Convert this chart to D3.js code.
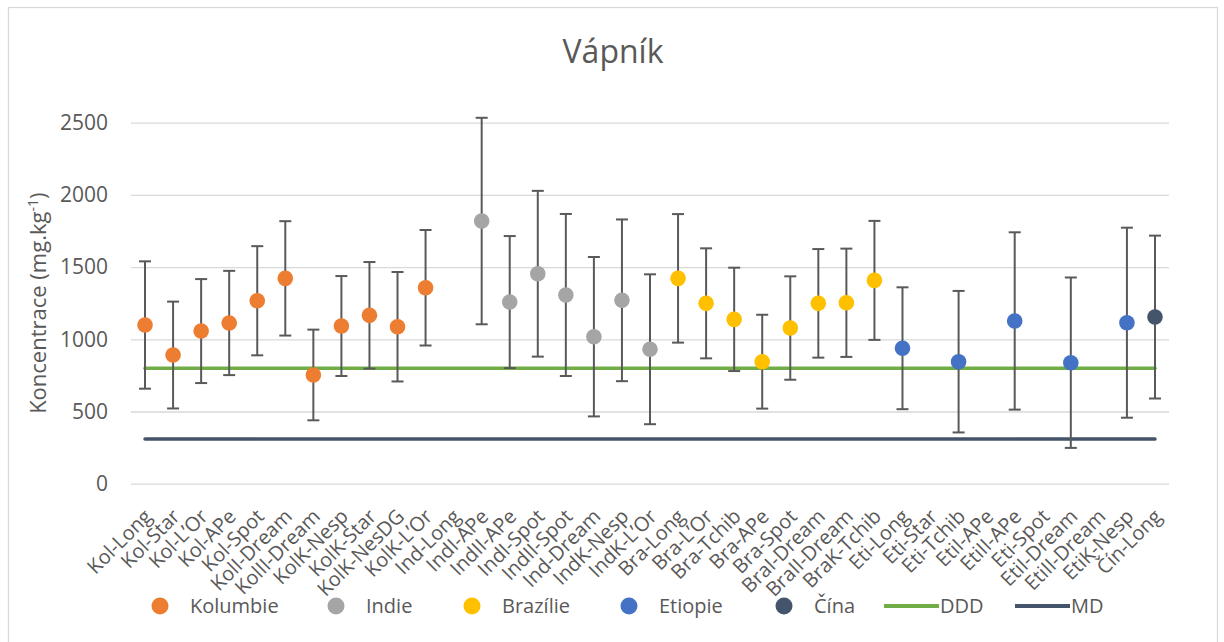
<!DOCTYPE html>
<html>
<head>
<meta charset="utf-8">
<script src="https://cdn.jsdelivr.net/npm/d3@7"></script>
<style>
  html, body { margin: 0; padding: 0; background: #fff; }
  svg { display: block; font-family: "Open Sans", "Noto Sans", sans-serif; }
</style>
</head>
<body>
<div id="chart"></div>
<script>
// Kategorie (vzorky)
const categories = [
  "Kol-Long", "Kol-Star", "Kol-L’Or", "Kol-APe", "Kol-Spot", "KolI-Dream", "KolII-Dream",
  "KolK-Nesp", "KolK-Star", "KolK-NesDG", "KolK-L’Or",
  "Ind-Long", "IndI-APe", "IndII-APe", "IndI-Spot", "IndII-Spot", "Ind-Dream", "IndK-Nesp", "IndK-L’Or",
  "Bra-Long", "Bra-L’Or", "Bra-Tchib", "Bra-APe", "Bra-Spot", "BraI-Dream", "BraII-Dream", "BraK-Tchib",
  "Eti-Long", "Eti-Star", "Eti-Tchib", "EtiI-APe", "EtiII-APe", "Eti-Spot", "EtiI-Dream", "EtiII-Dream", "EtiK-Nesp",
  "Čín-Long"
];

// Země původu pro každou kategorii
const origin = [
  "Kolumbie", "Kolumbie", "Kolumbie", "Kolumbie", "Kolumbie", "Kolumbie", "Kolumbie",
  "Kolumbie", "Kolumbie", "Kolumbie", "Kolumbie",
  "Indie", "Indie", "Indie", "Indie", "Indie", "Indie", "Indie", "Indie",
  "Brazílie", "Brazílie", "Brazílie", "Brazílie", "Brazílie", "Brazílie", "Brazílie", "Brazílie",
  "Etiopie", "Etiopie", "Etiopie", "Etiopie", "Etiopie", "Etiopie", "Etiopie", "Etiopie", "Etiopie",
  "Čína"
];

// Průměrné koncentrace (mg/kg), null = bez hodnoty
const meanValues = [
  1099, 891, 1057, 1113, 1267, 1422, 753, 1092, 1166, 1087, 1357,
  null, 1819, 1258, 1454, 1307, 1018, 1270, 931,
  1422, 1249, 1138, 845, 1078, 1249, 1253, 1408,
  938, null, 845, null, 1127, null, 838, null, 1115,
  1154
];

// Chybové úsečky (+/-)
const errValues = [
  441, 370, 360, 361, 378, 396, 314, 346, 369, 379, 400,
  null, 715, 457, 574, 561, 552, 560, 519,
  445, 381, 358, 325, 358, 376, 375, 412,
  422, null, 490, null, 614, null, 590, null, 658,
  564
];

// Limity
const dddValue = 800;
const mdValue = 310;

const yTicks = [0, 500, 1000, 1500, 2000, 2500];

const countries = ["Kolumbie", "Indie", "Brazílie", "Etiopie", "Čína"];
const countryColors = ["#ED7D31", "#A5A5A5", "#FFC000", "#4472C4", "#44546A"];

const width = 1224, height = 642;
const plot = { left: 131, right: 1169, top: 122.7, bottom: 483.7 };
const textColor = "#595959";

const svg = d3.select("#chart")
  .append("svg")
  .attr("width", width)
  .attr("height", height);

// Rámeček grafu
svg.append("rect")
  .attr("x", 8.5).attr("y", 7.5)
  .attr("width", 1209).attr("height", 650)
  .attr("fill", "none")
  .attr("stroke", "#d9d9d9")
  .attr("stroke-width", 1.3);

// Škály
const x = d3.scaleBand()
  .domain(categories)
  .range([plot.left, plot.right]);

const y = d3.scaleLinear()
  .domain([0, 2500])
  .range([plot.bottom, plot.top]);

const color = d3.scaleOrdinal()
  .domain(countries)
  .range(countryColors);

const cx = d => x(d) + x.bandwidth() / 2;

// Titulek
svg.append("text")
  .attr("x", 613)
  .attr("y", 63)
  .attr("text-anchor", "middle")
  .attr("fill", textColor)
  .attr("font-size", "32px")
  .text("Vápník");

// Mřížka
svg.append("g")
  .attr("class", "grid")
  .attr("transform", `translate(${plot.left},0)`)
  .call(d3.axisRight(y).tickValues(yTicks).tickSize(plot.right - plot.left).tickFormat(""))
  .call(g => g.select(".domain").remove())
  .call(g => g.selectAll("line").attr("stroke", "#d9d9d9").attr("stroke-width", 1.3));

// Osa Y
svg.append("g")
  .attr("transform", `translate(${plot.left - 23},0)`)
  .call(d3.axisLeft(y).tickValues(yTicks).tickSize(0).tickPadding(0).tickFormat(d3.format("d")))
  .call(g => g.select(".domain").remove())
  .attr("font-size", "21px")
  .attr("font-family", "Open Sans, sans-serif")
  .call(g => g.selectAll("text").attr("fill", textColor));

// Popisek osy Y
const yTitle = svg.append("text")
  .attr("transform", `translate(46,${(plot.top + plot.bottom) / 2}) rotate(-90)`)
  .attr("text-anchor", "middle")
  .attr("fill", textColor)
  .attr("font-size", "22px");
yTitle.append("tspan").text("Koncentrace (mg.kg");
yTitle.append("tspan").attr("dy", "-8").attr("font-size", "14px").text("-1");
yTitle.append("tspan").attr("dy", "8").text(")");

// Osa X – popisky
svg.append("g")
  .selectAll("text")
  .data(categories)
  .enter()
  .append("text")
  .attr("transform", d => `translate(${cx(d) + 8},${plot.bottom + 34}) rotate(-45)`)
  .attr("text-anchor", "end")
  .attr("fill", textColor)
  .attr("font-size", "20px")
  .text(d => d);

// Limity DDD a MD
const firstX = cx(categories[0]);
const lastX = cx(categories[categories.length - 1]);

svg.append("line")
  .attr("x1", firstX).attr("x2", lastX)
  .attr("y1", y(dddValue)).attr("y2", y(dddValue))
  .attr("stroke", "#70AD47")
  .attr("stroke-width", 3.5)
  .attr("stroke-linecap", "round");

svg.append("line")
  .attr("x1", firstX).attr("x2", lastX)
  .attr("y1", y(mdValue)).attr("y2", y(mdValue))
  .attr("stroke", "#44546A")
  .attr("stroke-width", 3.5)
  .attr("stroke-linecap", "round");

// Data body
const points = categories
  .map((c, i) => ({ name: c, country: origin[i], mean: meanValues[i], err: errValues[i] }))
  .filter(d => d.mean != null);

// Chybové úsečky
const errG = svg.append("g")
  .attr("stroke", "#595959")
  .attr("stroke-width", 2);

errG.selectAll(".err-v")
  .data(points)
  .enter()
  .append("line")
  .attr("x1", d => cx(d.name)).attr("x2", d => cx(d.name))
  .attr("y1", d => y(d.mean - d.err)).attr("y2", d => y(d.mean + d.err));

errG.selectAll(".err-top")
  .data(points)
  .enter()
  .append("line")
  .attr("x1", d => cx(d.name) - 6).attr("x2", d => cx(d.name) + 6)
  .attr("y1", d => y(d.mean + d.err)).attr("y2", d => y(d.mean + d.err));

errG.selectAll(".err-bot")
  .data(points)
  .enter()
  .append("line")
  .attr("x1", d => cx(d.name) - 6).attr("x2", d => cx(d.name) + 6)
  .attr("y1", d => y(d.mean - d.err)).attr("y2", d => y(d.mean - d.err));

// Body
svg.append("g")
  .selectAll("circle")
  .data(points)
  .enter()
  .append("circle")
  .attr("cx", d => cx(d.name))
  .attr("cy", d => y(d.mean))
  .attr("r", 7.8)
  .attr("fill", d => color(d.country));

// Legenda
const legendItems = countries.map(c => ({ label: c, type: "dot", color: color(c) }))
  .concat([
    { label: "DDD", type: "line", color: "#70AD47" },
    { label: "MD", type: "line", color: "#44546A" }
  ]);
const legendX = [132, 308, 444, 601, 756, 884, 1015];

const legend = svg.append("g").attr("font-size", "20px");
const ly = 606;
legendItems.forEach((item, i) => {
  const g = legend.append("g").attr("transform", `translate(${legendX[i]},${ly})`);
  if (item.type === "dot") {
    g.append("circle").attr("cx", 28).attr("cy", 0).attr("r", 8.5).attr("fill", item.color);
  } else {
    g.append("line").attr("x1", 0).attr("x2", 55).attr("y1", 0).attr("y2", 0)
      .attr("stroke", item.color).attr("stroke-width", 4);
  }
  g.append("text")
    .attr("x", item.type === "dot" ? 58 : 56)
    .attr("y", 0)
    .attr("dy", "0.35em")
    .attr("fill", textColor)
    .text(item.label);
});
</script>
</body>
</html>
